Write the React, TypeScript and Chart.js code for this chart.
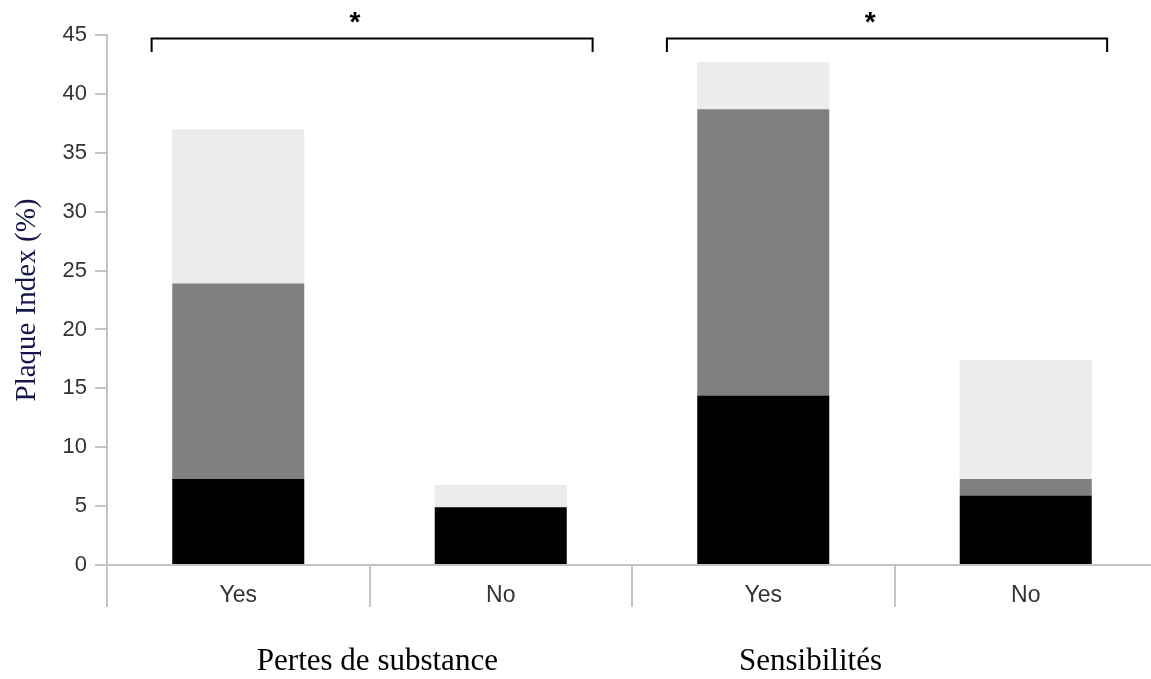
import React, { useEffect, useRef } from "react";
import { Chart, registerables } from "chart.js";

Chart.register(...registerables);

// ---- data ----
const categories = ["Yes", "No", "Yes", "No"];
const groupLabels = ["Pertes de substance", "Sensibilités"];
const blackSeries = [7.3, 4.9, 14.4, 5.9];
const graySeries = [16.6, 0, 24.3, 1.4];
const lightSeries = [13.1, 1.9, 4.0, 10.1];
const yTicks = [0, 5, 10, 15, 20, 25, 30, 35, 40, 45];
const significance = ["*", "*"];

// annotation placement (in category-index units / y-value units)
const groupLabelAt = [0.53, 2.18];
const brackets = [
  { from: -0.33, to: 1.35, star: 0.445 },
  { from: 1.633, to: 3.31, star: 2.407 },
];
const bracketY = 44.7;
const bracketDrop = 1.15;
const starY = 46.5;

const GRID = "#c4c4c4";

const bracketPlugin = {
  id: "bracketPlugin",
  afterDraw(chart: any) {
    const ctx = chart.ctx;
    const xs = chart.scales.x;
    const ys = chart.scales.y;
    ctx.save();
    ctx.strokeStyle = "#000";
    ctx.lineWidth = 2;
    brackets.forEach((b, i) => {
      const x1 = xs.getPixelForValue(b.from);
      const x2 = xs.getPixelForValue(b.to);
      const y = ys.getPixelForValue(bracketY);
      const yd = ys.getPixelForValue(bracketY - bracketDrop);
      ctx.beginPath();
      ctx.moveTo(x1, yd);
      ctx.lineTo(x1, y);
      ctx.lineTo(x2, y);
      ctx.lineTo(x2, yd);
      ctx.stroke();
      ctx.fillStyle = "#000";
      ctx.font = "bold 28px 'Liberation Sans', Arial, sans-serif";
      ctx.textAlign = "center";
      ctx.textBaseline = "middle";
      ctx.fillText(significance[i], xs.getPixelForValue(b.star), ys.getPixelForValue(starY) + 6);
    });
    ctx.restore();
  },
};

export default function App() {
  const ref = useRef<HTMLCanvasElement | null>(null);

  useEffect(() => {
    if (!ref.current) return;
    const chart = new Chart(ref.current, {
      type: "bar",
      data: {
        labels: categories,
        datasets: [
          { label: "black", data: blackSeries, backgroundColor: "#000000", borderWidth: 0 },
          { label: "gray", data: graySeries, backgroundColor: "#808080", borderWidth: 0 },
          { label: "light", data: lightSeries, backgroundColor: "#ececec", borderWidth: 0 },
        ],
      },
      options: {
        animation: false,
        responsive: false,
        devicePixelRatio: 1,
        layout: { padding: { top: 35, right: 3, left: 0, bottom: 0 } },
        datasets: { bar: { categoryPercentage: 1, barPercentage: 0.503 } },
        plugins: { legend: { display: false }, tooltip: { enabled: false } },
        scales: {
          x: {
            type: "category",
            stacked: true,
            weight: 0,
            offset: true,
            grid: {
              offset: true,
              drawOnChartArea: false,
              drawTicks: true,
              tickLength: 42,
              color: GRID,
              lineWidth: 2,
            },
            border: { display: true, color: GRID, width: 2 },
            ticks: {
              font: { family: "'Liberation Sans', Arial, sans-serif", size: 23 },
              color: "#333",
              padding: -25,
            },
            afterFit(scale: any) {
              scale.height = 42;
            },
          },
          x2: {
            type: "linear",
            position: "bottom",
            weight: 1,
            offset: false,
            min: -0.5,
            max: 3.5,
            grid: { display: false, drawTicks: false, offset: false },
            border: { display: false },
            afterBuildTicks(axis: any) {
              axis.ticks = groupLabelAt.map((v) => ({ value: v }));
            },
            ticks: {
              autoSkip: false,
              maxRotation: 0,
              align: "center",
              font: { family: "'Liberation Serif', 'Times New Roman', serif", size: 31 },
              color: "#000",
              padding: 36,
              callback: (v: any) => {
                const i = groupLabelAt.indexOf(Number(v));
                return i >= 0 ? groupLabels[i] : "";
              },
            },
            afterFit(scale: any) {
              scale.height = 72;
            },
          },
          y: {
            stacked: true,
            min: 0,
            max: 45,
            afterBuildTicks(axis: any) {
              axis.ticks = yTicks.map((v) => ({ value: v }));
            },
            grid: {
              drawOnChartArea: false,
              drawTicks: true,
              tickLength: 12,
              color: GRID,
              lineWidth: 2,
            },
            border: { display: true, color: GRID, width: 2 },
            ticks: {
              font: { family: "'Liberation Sans', Arial, sans-serif", size: 22 },
              color: "#333",
              padding: 8,
            },
            title: {
              display: true,
              text: "Plaque Index (%)",
              font: { family: "'Liberation Serif', 'Times New Roman', serif", size: 29 },
              color: "#16164a",
              padding: { top: 10, bottom: 0 },
            },
            afterFit(scale: any) {
              scale.width = 107;
            },
          },
        },
      },
      plugins: [bracketPlugin],
    } as any);
    return () => chart.destroy();
  }, []);

  return (
    <div
      style={{
        position: "fixed",
        left: 0,
        top: 0,
        width: 1151,
        height: 679,
        overflow: "hidden",
        background: "#fff",
      }}
    >
      <canvas ref={ref} width={1160} height={679} style={{ width: 1160, height: 679, display: "block" }} />
    </div>
  );
}
